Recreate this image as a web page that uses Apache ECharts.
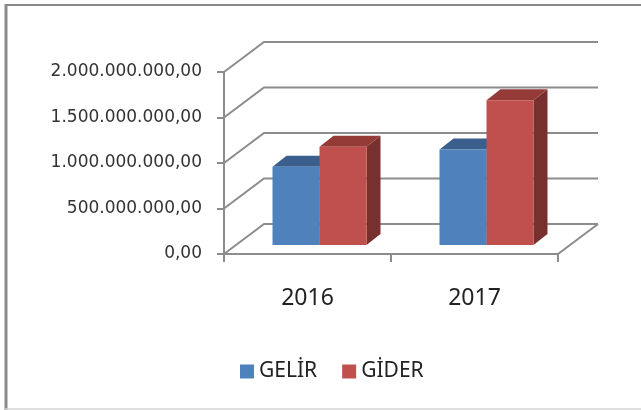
<!DOCTYPE html>
<html>
<head>
<meta charset="utf-8">
<script src="https://cdn.jsdelivr.net/npm/echarts@6/dist/echarts.min.js"></script>
<style>
  html, body { margin: 0; padding: 0; background: #fff; }
  #chart1 { width: 641px; height: 410px; }
</style>
</head>
<body>
<div id="chart1"></div>
<script>
    // veriler
    var years = ['2016', '2017'];
    var gelir = [860000000, 1050000000];
    var gider = [1080000000, 1590000000];
    var yTicks = [0, 500000000, 1000000000, 1500000000, 2000000000];

    // 3d gorunum icin kaydirmalar
    var WALL_DX = 40, WALL_DY = -30;
    var BAR_DX = 12, BAR_DY = -9;
    var TOP_DX = 14, TOP_DY = -11;
    var BAR_W = 47;

    function trFormat(v) {
        var s = String(Math.round(v));
        s = s.replace(/\B(?=(\d{3})+(?!\d))/g, '.');
        return s + ',00';
    }

    function wallItem(params, api) {
        var cs = params.coordSys;
        var y = api.coord([0, api.value(1)])[1];
        var children = [{
            type: 'polyline',
            shape: { points: [[cs.x, y], [cs.x + WALL_DX, y + WALL_DY], [cs.x + cs.width + WALL_DX, y + WALL_DY]] },
            style: { stroke: '#8c8c8c', lineWidth: 2, fill: null }
        }];
        if (api.value(1) === 0) {
            children.push({
                type: 'line',
                shape: { x1: cs.x + cs.width, y1: y, x2: cs.x + cs.width + WALL_DX, y2: y + WALL_DY },
                style: { stroke: '#8c8c8c', lineWidth: 2 }
            });
        }
        return { type: 'group', children: children };
    }

    function barItem(colors, left) {
        return function (params, api) {
            var cat = api.value(0);
            var base = api.coord([cat, 0]);
            var top = api.coord([cat, api.value(1)]);
            var x0 = base[0] + BAR_DX - (left ? BAR_W : 0);
            var x1 = x0 + BAR_W;
            var yb = base[1] + BAR_DY;
            var yt = top[1] + BAR_DY;
            return {
                type: 'group',
                children: [
                    { type: 'polygon', shape: { points: [[x1, yt], [x1 + TOP_DX, yt + TOP_DY], [x1 + TOP_DX, yb + TOP_DY], [x1, yb]] },
                      style: { fill: colors[2] } },
                    { type: 'polygon', shape: { points: [[x0, yt], [x0 + TOP_DX, yt + TOP_DY], [x1 + TOP_DX, yt + TOP_DY], [x1, yt]] },
                      style: { fill: colors[1] } },
                    { type: 'rect', shape: { x: x0, y: yt, width: BAR_W, height: yb - yt },
                      style: { fill: colors[0] } }
                ]
            };
        };
    }

    var chart1 = {
        animation: false,
        grid: { left: 224, right: 83, top: 72, bottom: 156 },
        legend: {
            data: ['GELİR', 'GİDER'],
            left: 235,
            top: 356,
            icon: 'rect',
            itemWidth: 14,
            itemHeight: 14,
            itemGap: 25,
            textStyle: { fontFamily: 'Noto Sans', fontSize: 21, color: '#222' }
        },
        xAxis: {
            type: 'category',
            data: years,
            axisLine: { lineStyle: { color: '#8c8c8c', width: 2 } },
            axisTick: { show: true, length: 8, lineStyle: { color: '#8c8c8c', width: 2 } },
            axisLabel: { margin: 33, fontFamily: 'Noto Sans', fontSize: 23, color: '#222' }
        },
        yAxis: {
            type: 'value',
            min: 0,
            max: 2000000000,
            interval: 500000000,
            axisLine: { show: true, lineStyle: { color: '#8c8c8c', width: 2 } },
            axisTick: { show: true, length: 7, lineStyle: { color: '#8c8c8c', width: 2 } },
            splitLine: { show: false },
            axisLabel: { margin: 22, fontFamily: 'DejaVu Sans', fontSize: 17, color: '#333', formatter: trFormat }
        },
        graphic: [
            { type: 'line', shape: { x1: 6, y1: 4, x2: 6, y2: 410 }, style: { stroke: '#8a8a8a', lineWidth: 3 } },
            { type: 'line', shape: { x1: 5, y1: 5, x2: 641, y2: 5 }, style: { stroke: '#8a8a8a', lineWidth: 2 } },
            { type: 'line', shape: { x1: 5, y1: 409, x2: 641, y2: 409 }, style: { stroke: '#d4d4d4', lineWidth: 1.5 } }
        ],
        series: [
            {
                name: 'walls',
                type: 'custom',
                silent: true,
                z: 1,
                renderItem: wallItem,
                encode: { x: 0, y: 1 },
                data: yTicks.map(function (v) { return [0, v]; })
            },
            {
                name: 'GELİR',
                type: 'custom',
                z: 3,
                itemStyle: { color: '#4f81bd' },
                renderItem: barItem(['#4f81bd', '#3b5f8c', '#3b5f8c'], true),
                encode: { x: 0, y: 1 },
                data: gelir.map(function (v, i) { return [i, v]; })
            },
            {
                name: 'GİDER',
                type: 'custom',
                z: 4,
                itemStyle: { color: '#c0504d' },
                renderItem: barItem(['#c0504d', '#943a37', '#78302e'], false),
                encode: { x: 0, y: 1 },
                data: gider.map(function (v, i) { return [i, v]; })
            }
        ]
    };

    var myChart = echarts.init(document.getElementById('chart1'));
    myChart.setOption(chart1);
</script>
</body>
</html>
